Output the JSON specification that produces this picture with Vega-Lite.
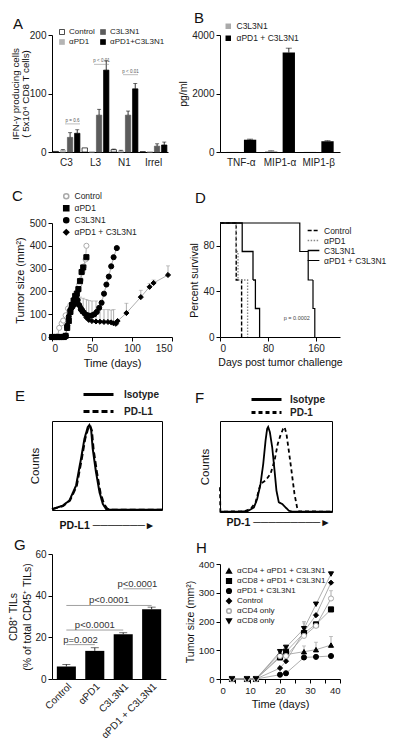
{
"$schema": "https://vega.github.io/schema/vega-lite/v6.json",
"background": "white",
"padding": {"left": 8, "top": 11, "right": 5, "bottom": 30},
"config": {
 "font": "Liberation Sans",
 "view": {"stroke": null},
 "axis": {"grid": false, "domainColor": "#000", "tickColor": "#000", "labelColor": "#222", "titleColor": "#111", "labelFontSize": 10, "titleFontSize": 10.5, "titleFontWeight": "normal", "tickSize": 4, "labelPadding": 2, "titlePadding": 4},
 "legend": {"labelFontSize": 8.5, "labelColor": "#222", "orient": "none"},
 "title": {"fontSize": 15, "fontWeight": "normal", "anchor": "start", "frame": "group", "offset": 0, "baseline": "alphabetic", "color": "#111"}
},
"columns": 2,
"spacing": {"row": 0, "column": 48},
"bounds": "flush",
"resolve": {
 "scale": {"x":"independent","y":"independent","xOffset":"independent","fill":"independent","stroke":"independent","shape":"independent","strokeDash":"independent","strokeWidth":"independent"},
 "axis": {"x":"independent","y":"independent"},
 "legend": {"fill":"independent","stroke":"independent","shape":"independent","strokeDash":"independent","strokeWidth":"independent"}
},
"concat": [
 {
  "width": 116, "height": 117,
  "title": {"text": "A", "dx": -39, "dy": 8},
  "data": {"values": [
   {"g":"C3","s":"Control","v":1},
   {"g":"C3","s":"αPD1","v":3,"hi":4},
   {"g":"C3","s":"C3L3N1","v":25,"hi":33},
   {"g":"C3","s":"αPD1+C3L3N1","v":32,"hi":38},
   {"g":"L3","s":"Control","v":7},
   {"g":"L3","s":"αPD1","v":0.5},
   {"g":"L3","s":"C3L3N1","v":63,"hi":73},
   {"g":"L3","s":"αPD1+C3L3N1","v":140,"hi":156},
   {"g":"N1","s":"Control","v":4,"hi":5},
   {"g":"N1","s":"αPD1","v":2,"hi":3},
   {"g":"N1","s":"C3L3N1","v":63,"hi":70},
   {"g":"N1","s":"αPD1+C3L3N1","v":108,"hi":117},
   {"g":"Irrel","s":"Control","v":0.5},
   {"g":"Irrel","s":"αPD1","v":0.5},
   {"g":"Irrel","s":"C3L3N1","v":10,"hi":14},
   {"g":"Irrel","s":"αPD1+C3L3N1","v":12,"hi":17}
  ]},
  "encoding": {
   "x": {"field":"g","type":"nominal","sort":["C3","L3","N1","Irrel"],"scale":{"domain":["C3","L3","N1","Irrel"],"paddingInner":0,"paddingOuter":0},"axis":{"title":null,"ticks":false,"labelAngle":0,"labelPadding":5}}
  },
  "layer": [
   {"mark":{"type":"bar","strokeWidth":0.7},
    "encoding":{
     "xOffset":{"field":"s","type":"nominal","sort":["Control","αPD1","C3L3N1","αPD1+C3L3N1"],"scale":{"paddingInner":0.25,"paddingOuter":0.15}},
     "y":{"field":"v","type":"quantitative","scale":{"domain":[0,200],"nice":false},"axis":{"values":[0,50,100,150,200],"title":["IFN-γ producing cells","( 5x10⁴ CD8 T cells)"],"titlePadding":-1,"titleFontSize":9.8,"titleLineHeight":10}},
     "fill":{"field":"s","type":"nominal","scale":{"domain":["Control","αPD1","C3L3N1","αPD1+C3L3N1"],"range":["#ffffff","#b4b4b4","#5c5c5c","#000000"]},"legend":{"title":null,"legendX":6,"legendY":-7,"columns":2,"symbolType":"square","symbolSize":25,"labelFontSize":8,"columnPadding":4,"rowPadding":2,"symbolStrokeWidth":0.7,"labelOffset":3}},
     "stroke":{"field":"s","type":"nominal","scale":{"domain":["Control","αPD1","C3L3N1","αPD1+C3L3N1"],"range":["#000000","#b4b4b4","#5c5c5c","#000000"]},"legend":{"title":null,"legendX":6,"legendY":-7,"columns":2,"symbolType":"square","symbolSize":25,"labelFontSize":8,"columnPadding":4,"rowPadding":2,"symbolStrokeWidth":0.7,"labelOffset":3}}
    }},
   {"transform":[{"filter":"isValid(datum.hi)"}],"mark":{"type":"rule","strokeWidth":0.8,"color":"#000"},
    "encoding":{"xOffset":{"field":"s","type":"nominal","sort":["Control","αPD1","C3L3N1","αPD1+C3L3N1"]},"y":{"field":"v","type":"quantitative"},"y2":{"field":"hi"}}},
   {"transform":[{"filter":"isValid(datum.hi)"}],"mark":{"type":"tick","thickness":0.8,"size":4,"color":"#000"},
    "encoding":{"xOffset":{"field":"s","type":"nominal","sort":["Control","αPD1","C3L3N1","αPD1+C3L3N1"]},"y":{"field":"hi","type":"quantitative"}}},
   {"data":{"values":[{"g":"C3","y":48,"t":"p = 0.6"},{"g":"L3","y":150,"t":"p < 0.01"},{"g":"N1","y":132,"t":"p < 0.01"}]},
    "mark":{"type":"tick","thickness":0.7,"size":15,"color":"#777","xOffset":6},
    "encoding":{"y":{"field":"y","type":"quantitative"}}},
   {"data":{"values":[{"g":"C3","y":48,"t":"p = 0.6"},{"g":"L3","y":150,"t":"p < 0.01"},{"g":"N1","y":132,"t":"p < 0.01"}]},
    "mark":{"type":"text","fontSize":4.5,"xOffset":6,"dy":-3,"color":"#555"},
    "encoding":{"y":{"field":"y","type":"quantitative"},"text":{"field":"t"}}}
  ]
 },
 {
  "width": 120, "height": 117,
  "title": {"text": "B", "dx": -26, "dy": 8},
  "data": {"values": [
   {"g":"TNF-α","s":"C3L3N1","v":5},
   {"g":"TNF-α","s":"αPD1 + C3L3N1","v":420,"hi":440},
   {"g":"MIP1-α","s":"C3L3N1","v":30,"hi":40},
   {"g":"MIP1-α","s":"αPD1 + C3L3N1","v":3400,"hi":3550},
   {"g":"MIP1-β","s":"C3L3N1","v":5},
   {"g":"MIP1-β","s":"αPD1 + C3L3N1","v":370,"hi":385}
  ]},
  "encoding": {
   "x": {"field":"g","type":"nominal","sort":["TNF-α","MIP1-α","MIP1-β"],"scale":{"domain":["TNF-α","MIP1-α","MIP1-β"],"paddingInner":0,"paddingOuter":0.05},"axis":{"title":null,"ticks":false,"labelAngle":0,"labelPadding":5}},
   "xOffset": {"field":"s","type":"nominal","sort":["C3L3N1","αPD1 + C3L3N1"],"scale":{"paddingInner":0.3,"paddingOuter":0.25}}
  },
  "layer": [
   {"mark":{"type":"bar"},
    "encoding":{
     "y":{"field":"v","type":"quantitative","scale":{"domain":[0,4000],"nice":false},"axis":{"values":[0,1000,2000,3000,4000],"format":"d","title":"pg/ml","titlePadding":3}},
     "fill":{"field":"s","type":"nominal","scale":{"domain":["C3L3N1","αPD1 + C3L3N1"],"range":["#aaaaaa","#000000"]},"legend":{"title":null,"legendX":4,"legendY":-13,"symbolType":"square","symbolSize":30,"labelFontSize":8.5,"rowPadding":3,"labelOffset":4}}
    }},
   {"transform":[{"filter":"isValid(datum.hi)"}],"mark":{"type":"rule","color":"#000","strokeWidth":0.8},"encoding":{"y":{"field":"v","type":"quantitative"},"y2":{"field":"hi"}}},
   {"transform":[{"filter":"isValid(datum.hi)"}],"mark":{"type":"tick","color":"#000","thickness":0.8,"size":6},"encoding":{"y":{"field":"hi","type":"quantitative"}}}
  ]
 },
 {"width": 1, "height": 71, "data": {"values": []}, "mark": "point"},
 {"width": 1, "height": 71, "data": {"values": []}, "mark": "point"},
 {
  "width": 120, "height": 114,
  "title": {"text": "C", "dx": -40, "dy": 16},
  "data": {"values": [
   {"s":"Control","d":0,"v":0},{"s":"Control","d":4,"v":0},{"s":"Control","d":7,"v":3},{"s":"Control","d":9,"v":40},{"s":"Control","d":12,"v":60},{"s":"Control","d":14,"v":72},{"s":"Control","d":17,"v":95},{"s":"Control","d":20,"v":125},{"s":"Control","d":23,"v":140},{"s":"Control","d":27,"v":155},{"s":"Control","d":30,"v":170},{"s":"Control","d":32,"v":200},{"s":"Control","d":34,"v":230},{"s":"Control","d":36,"v":250},{"s":"Control","d":38,"v":285},{"s":"Control","d":40,"v":310},{"s":"Control","d":42,"v":340},{"s":"Control","d":43,"v":400},
   {"s":"αPD1","d":0,"v":0},{"s":"αPD1","d":3,"v":0},{"s":"αPD1","d":6,"v":0},{"s":"αPD1","d":9,"v":0},{"s":"αPD1","d":12,"v":0},{"s":"αPD1","d":15,"v":0},{"s":"αPD1","d":17,"v":5},{"s":"αPD1","d":19,"v":40},{"s":"αPD1","d":21,"v":70},{"s":"αPD1","d":23,"v":110},{"s":"αPD1","d":25,"v":140},{"s":"αPD1","d":27,"v":160},{"s":"αPD1","d":29,"v":180},{"s":"αPD1","d":31,"v":190},{"s":"αPD1","d":33,"v":210},{"s":"αPD1","d":35,"v":245},{"s":"αPD1","d":37,"v":285},{"s":"αPD1","d":39,"v":305},{"s":"αPD1","d":43,"v":350},
   {"s":"C3L3N1","d":0,"v":0},{"s":"C3L3N1","d":3,"v":0},{"s":"C3L3N1","d":6,"v":0},{"s":"C3L3N1","d":9,"v":0},{"s":"C3L3N1","d":12,"v":0},{"s":"C3L3N1","d":15,"v":0},{"s":"C3L3N1","d":17,"v":5},{"s":"C3L3N1","d":19,"v":50},{"s":"C3L3N1","d":21,"v":90},{"s":"C3L3N1","d":23,"v":120},{"s":"C3L3N1","d":25,"v":140},{"s":"C3L3N1","d":28,"v":165},{"s":"C3L3N1","d":30,"v":178},{"s":"C3L3N1","d":32,"v":162},{"s":"C3L3N1","d":34,"v":140},{"s":"C3L3N1","d":36,"v":122},{"s":"C3L3N1","d":38,"v":112},{"s":"C3L3N1","d":41,"v":102},{"s":"C3L3N1","d":44,"v":96},{"s":"C3L3N1","d":47,"v":93},{"s":"C3L3N1","d":50,"v":95},{"s":"C3L3N1","d":53,"v":100},{"s":"C3L3N1","d":56,"v":110},{"s":"C3L3N1","d":59,"v":128},{"s":"C3L3N1","d":62,"v":150},{"s":"C3L3N1","d":65,"v":190},{"s":"C3L3N1","d":68,"v":230},{"s":"C3L3N1","d":71,"v":265},{"s":"C3L3N1","d":74,"v":310},{"s":"C3L3N1","d":77,"v":350},{"s":"C3L3N1","d":81,"v":390},
   {"s":"αPD1 + C3L3N1","d":0,"v":0},{"s":"αPD1 + C3L3N1","d":3,"v":0},{"s":"αPD1 + C3L3N1","d":6,"v":0},{"s":"αPD1 + C3L3N1","d":9,"v":0},{"s":"αPD1 + C3L3N1","d":12,"v":0},{"s":"αPD1 + C3L3N1","d":15,"v":0},{"s":"αPD1 + C3L3N1","d":17,"v":5},{"s":"αPD1 + C3L3N1","d":19,"v":40},{"s":"αPD1 + C3L3N1","d":21,"v":80},{"s":"αPD1 + C3L3N1","d":23,"v":110},{"s":"αPD1 + C3L3N1","d":25,"v":125},{"s":"αPD1 + C3L3N1","d":27,"v":135},{"s":"αPD1 + C3L3N1","d":29,"v":145},{"s":"αPD1 + C3L3N1","d":31,"v":150},{"s":"αPD1 + C3L3N1","d":33,"v":145},{"s":"αPD1 + C3L3N1","d":35,"v":135,"hi":175},{"s":"αPD1 + C3L3N1","d":37,"v":125},{"s":"αPD1 + C3L3N1","d":39,"v":115,"hi":170},{"s":"αPD1 + C3L3N1","d":41,"v":100},{"s":"αPD1 + C3L3N1","d":43,"v":85,"hi":165},{"s":"αPD1 + C3L3N1","d":46,"v":75,"hi":160},{"s":"αPD1 + C3L3N1","d":50,"v":70,"hi":158},{"s":"αPD1 + C3L3N1","d":55,"v":68,"hi":158},{"s":"αPD1 + C3L3N1","d":60,"v":67,"hi":122},{"s":"αPD1 + C3L3N1","d":65,"v":66,"hi":120},{"s":"αPD1 + C3L3N1","d":70,"v":66,"hi":120},{"s":"αPD1 + C3L3N1","d":74,"v":64,"hi":118},{"s":"αPD1 + C3L3N1","d":77,"v":60,"hi":120},{"s":"αPD1 + C3L3N1","d":80,"v":58},{"s":"αPD1 + C3L3N1","d":82,"v":70},{"s":"αPD1 + C3L3N1","d":93,"v":105,"hi":148},{"s":"αPD1 + C3L3N1","d":111,"v":175,"hi":205},{"s":"αPD1 + C3L3N1","d":122,"v":220,"hi":235},{"s":"αPD1 + C3L3N1","d":127,"v":237,"hi":250},{"s":"αPD1 + C3L3N1","d":145,"v":272,"hi":312}
  ]},
  "encoding": {
   "x": {"field":"d","type":"quantitative","scale":{"domain":[0,150],"nice":false},"axis":{"values":[0,50,100,150],"title":"Time (days)","titleFontSize":11}},
   "y": {"field":"v","type":"quantitative","scale":{"domain":[0,500],"nice":false},"axis":{"values":[0,100,200,300,400,500],"title":"Tumor size (mm²)","titleFontSize":11}}
  },
  "layer": [
   {"mark":{"type":"line","color":"#999","strokeWidth":0.8},"encoding":{"detail":{"field":"s"}}},
   {"transform":[{"filter":"isValid(datum.hi)"}],"mark":{"type":"rule","color":"#999","strokeWidth":0.8},"encoding":{"y2":{"field":"hi"}}},
   {"transform":[{"filter":"isValid(datum.hi)"}],"mark":{"type":"tick","orient":"horizontal","size":4,"thickness":0.8,"color":"#999"},"encoding":{"y":{"field":"hi","type":"quantitative"}}},
   {"mark":{"type":"point","size":26,"strokeWidth":1,"opacity":1,"filled":true},
    "encoding":{
     "shape":{"field":"s","type":"nominal","scale":{"domain":["Control","αPD1","C3L3N1","αPD1 + C3L3N1"],"range":["circle","square","circle","diamond"]},"legend":{"title":null,"legendX":10,"legendY":-31,"labelFontSize":8.5,"rowPadding":0,"symbolSize":26}},
     "fill":{"field":"s","type":"nominal","scale":{"domain":["Control","αPD1","C3L3N1","αPD1 + C3L3N1"],"range":["#ffffff","#000000","#000000","#000000"]},"legend":{"title":null,"legendX":10,"legendY":-31,"labelFontSize":8.5,"rowPadding":0,"symbolSize":26}},
     "stroke":{"field":"s","type":"nominal","scale":{"domain":["Control","αPD1","C3L3N1","αPD1 + C3L3N1"],"range":["#aaaaaa","#000000","#000000","#000000"]},"legend":{"title":null,"legendX":10,"legendY":-31,"labelFontSize":8.5,"rowPadding":0,"symbolSize":26}}
    }}
  ]
 },
 {
  "width": 120, "height": 114,
  "title": {"text": "D", "dx": -25, "dy": -10},
  "layer": [
   {"data": {"values": [
     {"s":"Control","o":1,"d":0,"v":100},{"s":"Control","o":2,"d":27,"v":100},{"s":"Control","o":3,"d":27,"v":50},{"s":"Control","o":4,"d":36,"v":50},{"s":"Control","o":5,"d":36,"v":0},
     {"s":"αPD1","o":1,"d":0,"v":100},{"s":"αPD1","o":2,"d":27,"v":100},{"s":"αPD1","o":3,"d":27,"v":75},{"s":"αPD1","o":4,"d":30,"v":75},{"s":"αPD1","o":5,"d":30,"v":50},{"s":"αPD1","o":6,"d":46,"v":50},{"s":"αPD1","o":7,"d":46,"v":0},
     {"s":"C3L3N1","o":1,"d":0,"v":100},{"s":"C3L3N1","o":2,"d":37,"v":100},{"s":"C3L3N1","o":3,"d":37,"v":75},{"s":"C3L3N1","o":4,"d":55,"v":75},{"s":"C3L3N1","o":5,"d":55,"v":50},{"s":"C3L3N1","o":6,"d":59,"v":50},{"s":"C3L3N1","o":7,"d":59,"v":25},{"s":"C3L3N1","o":8,"d":66,"v":25},{"s":"C3L3N1","o":9,"d":66,"v":0},
     {"s":"αPD1 + C3L3N1","o":1,"d":0,"v":100},{"s":"αPD1 + C3L3N1","o":2,"d":133,"v":100},{"s":"αPD1 + C3L3N1","o":3,"d":133,"v":75},{"s":"αPD1 + C3L3N1","o":4,"d":147,"v":75},{"s":"αPD1 + C3L3N1","o":5,"d":147,"v":50},{"s":"αPD1 + C3L3N1","o":6,"d":155,"v":50},{"s":"αPD1 + C3L3N1","o":7,"d":155,"v":25},{"s":"αPD1 + C3L3N1","o":8,"d":158,"v":25},{"s":"αPD1 + C3L3N1","o":9,"d":158,"v":0}
    ]},
    "mark": {"type":"line"},
    "encoding": {
     "x": {"field":"d","type":"quantitative","scale":{"domain":[0,200],"nice":false},"axis":{"values":[0,40,80,120,160,200],"title":"Days post tumor challenge","titleFontSize":10.5}},
     "y": {"field":"v","type":"quantitative","scale":{"domain":[0,100],"nice":false},"axis":{"values":[0,20,40,60,80,100],"title":"Percent survival","titleFontSize":10.5,"titlePadding":3}},
     "order": {"field":"o","type":"quantitative"},
     "stroke": {"field":"s","type":"nominal","scale":{"domain":["Control","αPD1","C3L3N1","αPD1 + C3L3N1"],"range":["#000000","#888888","#000000","#000000"]},"legend":{"title":null,"legendX":88,"legendY":2,"symbolType":"M-1.3,0H1.3","symbolSize":81,"symbolFillColor":"transparent","labelFontSize":8.5,"labelOffset":5,"rowPadding":0}},
     "strokeDash": {"field":"s","type":"nominal","scale":{"domain":["Control","αPD1","C3L3N1","αPD1 + C3L3N1"],"range":[[4,2],[1.5,1.5],[1,0],[1,0]]},"legend":{"title":null,"legendX":88,"legendY":2,"symbolType":"M-1.3,0H1.3","symbolSize":81,"symbolFillColor":"transparent","labelFontSize":8.5,"labelOffset":5,"rowPadding":0}},
     "strokeWidth": {"field":"s","type":"nominal","scale":{"domain":["Control","αPD1","C3L3N1","αPD1 + C3L3N1"],"range":[1.4,1.2,0.9,2]},"legend":{"title":null,"legendX":88,"legendY":2,"symbolType":"M-1.3,0H1.3","symbolSize":81,"symbolFillColor":"transparent","labelFontSize":8.5,"labelOffset":5,"rowPadding":0}}
    }},
   {"data": {"values": [{"d":128,"v":17,"t":"p = 0.0002"}]},
    "mark": {"type":"text","fontSize":5.5,"color":"#444"},
    "encoding": {"x":{"field":"d","type":"quantitative"},"y":{"field":"v","type":"quantitative"},"text":{"field":"t"}}}
  ]
 },
 {"width": 1, "height": 84, "data": {"values": []}, "mark": "point"},
 {"width": 1, "height": 84, "data": {"values": []}, "mark": "point"},
 {
  "width": 110, "height": 89,
  "view": {"stroke": "#000", "strokeWidth": 1},
  "title": {"text": "E", "dx": -37, "dy": 20},
  "data": {"values": [
   {"s":"Isotype","x":0,"y":0.8},{"s":"Isotype","x":9.7,"y":4.9},{"s":"Isotype","x":15.8,"y":10.6},{"s":"Isotype","x":21.9,"y":27.5},{"s":"Isotype","x":26.4,"y":57.7},{"s":"Isotype","x":29.5,"y":80},{"s":"Isotype","x":32.5,"y":93},{"s":"Isotype","x":34,"y":95.5},{"s":"Isotype","x":35.6,"y":90},{"s":"Isotype","x":37,"y":69},{"s":"Isotype","x":40,"y":42.6},{"s":"Isotype","x":43.2,"y":20},{"s":"Isotype","x":46.2,"y":6.8},{"s":"Isotype","x":49.2,"y":1.1},{"s":"Isotype","x":52.3,"y":0.4},{"s":"Isotype","x":100,"y":0.4},
   {"s":"PD-L1","x":0,"y":0.8},{"s":"PD-L1","x":10,"y":4.5},{"s":"PD-L1","x":16.3,"y":10.5},{"s":"PD-L1","x":22.5,"y":27},{"s":"PD-L1","x":27,"y":57},{"s":"PD-L1","x":30.2,"y":80},{"s":"PD-L1","x":33.2,"y":93},{"s":"PD-L1","x":34.6,"y":95},{"s":"PD-L1","x":36.3,"y":89},{"s":"PD-L1","x":37.8,"y":68},{"s":"PD-L1","x":40.9,"y":42},{"s":"PD-L1","x":44,"y":20},{"s":"PD-L1","x":47.2,"y":7},{"s":"PD-L1","x":50.2,"y":1.5},{"s":"PD-L1","x":53.5,"y":0.4},{"s":"PD-L1","x":100,"y":0.4}
  ]},
  "mark": {"type":"line","strokeWidth":2,"color":"#000"},
  "encoding": {
   "x": {"field":"x","type":"quantitative","scale":{"domain":[0,100],"nice":false},"axis":{"labels":false,"ticks":false,"domain":false,"title":"PD-L1 ───────►","titleX":7,"titleAlign":"left","titleAnchor":"start","titleFontWeight":"bold","titleFontSize":10.5,"titlePadding":10}},
   "y": {"field":"y","type":"quantitative","scale":{"domain":[0,100],"nice":false},"axis":{"labels":false,"ticks":false,"domain":false,"title":"Counts","titleFontSize":11.5,"titlePadding":12}},
   "strokeDash": {"field":"s","type":"nominal","scale":{"domain":["Isotype","PD-L1"],"range":[[1,0],[6,3]]},"legend":{"title":null,"legendX":40,"legendY":-33,"symbolType":"M-3,0H3","symbolSize":100,"symbolFillColor":"transparent","symbolStrokeWidth":3,"symbolStrokeColor":"#000","labelFontSize":10,"labelFontWeight":"bold","labelOffset":19,"rowPadding":4}}
  }
 },
 {
  "width": 112, "height": 91,
  "view": {"stroke": "#000", "strokeWidth": 1},
  "title": {"text": "F", "dx": -25, "dy": 17},
  "data": {"values": [
   {"s":"Isotype","x":0,"y":0.4},{"s":"Isotype","x":15.4,"y":0.4},{"s":"Isotype","x":24.3,"y":0.7},{"s":"Isotype","x":30.3,"y":5.1},{"s":"Isotype","x":33.2,"y":14.3},{"s":"Isotype","x":36.2,"y":30.9},{"s":"Isotype","x":38.6,"y":52.9},{"s":"Isotype","x":40.7,"y":78.7},{"s":"Isotype","x":42.1,"y":91.5},{"s":"Isotype","x":43,"y":93.4},{"s":"Isotype","x":44.5,"y":87.9},{"s":"Isotype","x":46.6,"y":71.3},{"s":"Isotype","x":48.7,"y":45.6},{"s":"Isotype","x":50.4,"y":23.5},{"s":"Isotype","x":52.5,"y":10.7},{"s":"Isotype","x":55.5,"y":8.8},{"s":"Isotype","x":58.5,"y":5.1},{"s":"Isotype","x":61.4,"y":1.5},{"s":"Isotype","x":64.4,"y":0.4},{"s":"Isotype","x":100,"y":0.4},
   {"s":"PD-1","x":0,"y":27.2},{"s":"PD-1","x":0.3,"y":0.4},{"s":"PD-1","x":21.4,"y":0.7},{"s":"PD-1","x":27.3,"y":3.3},{"s":"PD-1","x":31.8,"y":10.7},{"s":"PD-1","x":36.2,"y":30.9},{"s":"PD-1","x":40.7,"y":34.6},{"s":"PD-1","x":45.1,"y":41.9},{"s":"PD-1","x":48.7,"y":56.6},{"s":"PD-1","x":51.6,"y":75},{"s":"PD-1","x":54,"y":84.2},{"s":"PD-1","x":56.4,"y":91.5},{"s":"PD-1","x":57.6,"y":93.4},{"s":"PD-1","x":59.3,"y":86},{"s":"PD-1","x":61.4,"y":67.6},{"s":"PD-1","x":63.8,"y":45.6},{"s":"PD-1","x":66.5,"y":19.9},{"s":"PD-1","x":68.8,"y":5.1},{"s":"PD-1","x":70.3,"y":0.7},{"s":"PD-1","x":100,"y":0.4}
  ]},
  "mark": {"type":"line","strokeWidth":1.8,"color":"#000"},
  "encoding": {
   "x": {"field":"x","type":"quantitative","scale":{"domain":[0,100],"nice":false},"axis":{"labels":false,"ticks":false,"domain":false,"title":"PD-1 ─────────►","titleX":6,"titleAlign":"left","titleAnchor":"start","titleFontWeight":"bold","titleFontSize":10.5,"titlePadding":5}},
   "y": {"field":"y","type":"quantitative","scale":{"domain":[0,100],"nice":false},"axis":{"labels":false,"ticks":false,"domain":false,"title":"Counts","titleFontSize":11.5,"titlePadding":10}},
   "strokeDash": {"field":"s","type":"nominal","scale":{"domain":["Isotype","PD-1"],"range":[[1,0],[4,3]]},"legend":{"title":null,"legendX":40,"legendY":-28,"symbolType":"M-3,0H3","symbolSize":100,"symbolFillColor":"transparent","symbolStrokeWidth":3,"symbolStrokeColor":"#000","labelFontSize":10,"labelFontWeight":"bold","labelOffset":17,"rowPadding":0}}
  }
 },
 {"width": 1, "height": 42, "data": {"values": []}, "mark": "point"},
 {"width": 1, "height": 42, "data": {"values": []}, "mark": "point"},
 {
  "width": 114, "height": 125,
  "title": {"text": "G", "dx": -38, "dy": 8},
  "layer": [
   {"data":{"values":[{"g":"Control","v":6,"hi":7},{"g":"αPD1","v":13.5,"hi":15},{"g":"C3L3N1","v":21.5,"hi":22.2},{"g":"αPD1 + C3L3N1","v":33.5,"hi":34.5}]},
    "mark":{"type":"bar","color":"#000"},
    "encoding":{
     "x":{"field":"g","type":"nominal","sort":["Control","αPD1","C3L3N1","αPD1 + C3L3N1"],"scale":{"domain":["Control","αPD1","C3L3N1","αPD1 + C3L3N1"],"paddingInner":0.33,"paddingOuter":0.17},"axis":{"title":null,"labelAngle":-45,"ticks":false,"labelFontSize":10}},
     "y":{"field":"v","type":"quantitative","scale":{"domain":[0,60],"nice":false},"axis":{"values":[0,20,40,60],"title":["CD8⁺ TILs","(% of total CD45⁺ TILs)"],"titleFontSize":10.5,"titleLineHeight":14,"titlePadding":2}}
    }},
   {"data":{"values":[{"g":"Control","v":6,"hi":7},{"g":"αPD1","v":13.5,"hi":15},{"g":"C3L3N1","v":21.5,"hi":22.2},{"g":"αPD1 + C3L3N1","v":33.5,"hi":34.5}]},
    "mark":{"type":"rule","color":"#000","strokeWidth":0.8},
    "encoding":{"x":{"field":"g","type":"nominal"},"y":{"field":"v","type":"quantitative"},"y2":{"field":"hi"}}},
   {"data":{"values":[{"g":"Control","v":6,"hi":7},{"g":"αPD1","v":13.5,"hi":15},{"g":"C3L3N1","v":21.5,"hi":22.2},{"g":"αPD1 + C3L3N1","v":33.5,"hi":34.5}]},
    "mark":{"type":"tick","color":"#000","thickness":0.8,"size":8},
    "encoding":{"x":{"field":"g","type":"nominal"},"y":{"field":"hi","type":"quantitative"}}},
   {"data":{"values":[
     {"a":"Control","b":"αPD1","y":16.5,"t":"p=0.002","c":"αPD1","half":true},
     {"a":"Control","b":"C3L3N1","y":23.5,"t":"p<0.0001","c":"αPD1","half":false},
     {"a":"Control","b":"αPD1 + C3L3N1","y":35.3,"t":"p<0.0001","c":"C3L3N1","half":true},
     {"a":"C3L3N1","b":"αPD1 + C3L3N1","y":43.3,"t":"p<0.0001","c":"αPD1 + C3L3N1","half":true}
    ]},
    "layer":[
     {"mark":{"type":"rule","color":"#888","strokeWidth":0.8},
      "encoding":{"x":{"field":"a","type":"nominal"},"x2":{"field":"b"},"y":{"field":"y","type":"quantitative"}}},
     {"transform":[{"filter":"datum.half"}],"mark":{"type":"text","dx":-14.25,"dy":-5,"fontSize":9.5,"color":"#333"},
      "encoding":{"x":{"field":"c","type":"nominal"},"y":{"field":"y","type":"quantitative"},"text":{"field":"t"}}},
     {"transform":[{"filter":"!datum.half"}],"mark":{"type":"text","dy":-5,"fontSize":9.5,"color":"#333"},
      "encoding":{"x":{"field":"c","type":"nominal"},"y":{"field":"y","type":"quantitative"},"text":{"field":"t"}}}
    ]}
  ]
 },
 {
  "width": 120, "height": 125,
  "title": {"text": "H", "dx": -24, "dy": 6},
  "data": {"values": [
   {"s":"αCD4 + αPD1 + C3L3N1","d":4,"v":0},{"s":"αCD4 + αPD1 + C3L3N1","d":9,"v":0},{"s":"αCD4 + αPD1 + C3L3N1","d":12,"v":0},{"s":"αCD4 + αPD1 + C3L3N1","d":20,"v":90},{"s":"αCD4 + αPD1 + C3L3N1","d":22,"v":85},{"s":"αCD4 + αPD1 + C3L3N1","d":28,"v":95,"hi":115},{"s":"αCD4 + αPD1 + C3L3N1","d":32,"v":102,"hi":128},{"s":"αCD4 + αPD1 + C3L3N1","d":37,"v":118,"hi":148},
   {"s":"αCD8 + αPD1 + C3L3N1","d":4,"v":0},{"s":"αCD8 + αPD1 + C3L3N1","d":9,"v":0},{"s":"αCD8 + αPD1 + C3L3N1","d":12,"v":0},{"s":"αCD8 + αPD1 + C3L3N1","d":20,"v":75},{"s":"αCD8 + αPD1 + C3L3N1","d":22,"v":95},{"s":"αCD8 + αPD1 + C3L3N1","d":28,"v":160},{"s":"αCD8 + αPD1 + C3L3N1","d":32,"v":190},{"s":"αCD8 + αPD1 + C3L3N1","d":37,"v":242},
   {"s":"αPD1 + C3L3N1","d":4,"v":0},{"s":"αPD1 + C3L3N1","d":9,"v":0},{"s":"αPD1 + C3L3N1","d":12,"v":0},{"s":"αPD1 + C3L3N1","d":20,"v":15},{"s":"αPD1 + C3L3N1","d":22,"v":20},{"s":"αPD1 + C3L3N1","d":28,"v":75},{"s":"αPD1 + C3L3N1","d":32,"v":77},{"s":"αPD1 + C3L3N1","d":37,"v":80},
   {"s":"Control","d":4,"v":0},{"s":"Control","d":9,"v":0},{"s":"Control","d":12,"v":0},{"s":"Control","d":20,"v":38},{"s":"Control","d":22,"v":62},{"s":"Control","d":28,"v":165,"hi":200},{"s":"Control","d":32,"v":222},{"s":"Control","d":37,"v":335},
   {"s":"αCD4 only","d":4,"v":0},{"s":"αCD4 only","d":9,"v":0},{"s":"αCD4 only","d":12,"v":0},{"s":"αCD4 only","d":20,"v":80},{"s":"αCD4 only","d":22,"v":80},{"s":"αCD4 only","d":28,"v":150},{"s":"αCD4 only","d":32,"v":185,"hi":195},{"s":"αCD4 only","d":37,"v":280,"hi":307},
   {"s":"αCD8 only","d":4,"v":0},{"s":"αCD8 only","d":9,"v":0},{"s":"αCD8 only","d":12,"v":0},{"s":"αCD8 only","d":20,"v":95},{"s":"αCD8 only","d":22,"v":110},{"s":"αCD8 only","d":28,"v":175,"hi":195},{"s":"αCD8 only","d":32,"v":260},{"s":"αCD8 only","d":37,"v":365}
  ]},
  "encoding": {
   "x": {"field":"d","type":"quantitative","scale":{"domain":[0,40],"nice":false},"axis":{"values":[0,5,10,15,20,25,30,35,40],"title":"Time (days)","titleFontSize":11,"labelFontSize":9.5}},
   "y": {"field":"v","type":"quantitative","scale":{"domain":[0,400],"nice":false,"range":[125,10]},"axis":{"values":[0,100,200,300,400],"title":"Tumor size (mm²)","titleFontSize":10.5,"labelFontSize":9.5,"titlePadding":3}}
  },
  "layer": [
   {"mark":{"type":"line","color":"#999","strokeWidth":0.8},"encoding":{"detail":{"field":"s"}}},
   {"transform":[{"filter":"isValid(datum.hi)"}],"mark":{"type":"rule","color":"#999","strokeWidth":0.8},"encoding":{"y2":{"field":"hi"}}},
   {"transform":[{"filter":"isValid(datum.hi)"}],"mark":{"type":"tick","orient":"horizontal","size":4,"thickness":0.8,"color":"#999"},"encoding":{"y":{"field":"hi","type":"quantitative"}}},
   {"mark":{"type":"point","size":26,"strokeWidth":1,"opacity":1,"filled":true},
    "encoding":{
     "shape":{"field":"s","type":"nominal","scale":{"domain":["αCD4 + αPD1 + C3L3N1","αCD8 + αPD1 + C3L3N1","αPD1 + C3L3N1","Control","αCD4 only","αCD8 only"],"range":["triangle-up","square","circle","diamond","circle","triangle-down"]},"legend":{"title":null,"legendX":5,"legendY":13,"labelFontSize":8,"rowPadding":-2,"symbolSize":22}},
     "fill":{"field":"s","type":"nominal","scale":{"domain":["αCD4 + αPD1 + C3L3N1","αCD8 + αPD1 + C3L3N1","αPD1 + C3L3N1","Control","αCD4 only","αCD8 only"],"range":["#000000","#000000","#000000","#000000","#ffffff","#000000"]},"legend":{"title":null,"legendX":5,"legendY":13,"labelFontSize":8,"rowPadding":-2,"symbolSize":22}},
     "stroke":{"field":"s","type":"nominal","scale":{"domain":["αCD4 + αPD1 + C3L3N1","αCD8 + αPD1 + C3L3N1","αPD1 + C3L3N1","Control","αCD4 only","αCD8 only"],"range":["#000000","#000000","#000000","#000000","#aaaaaa","#000000"]},"legend":{"title":null,"legendX":5,"legendY":13,"labelFontSize":8,"rowPadding":-2,"symbolSize":22}}
    }}
  ]
 }
]
}
